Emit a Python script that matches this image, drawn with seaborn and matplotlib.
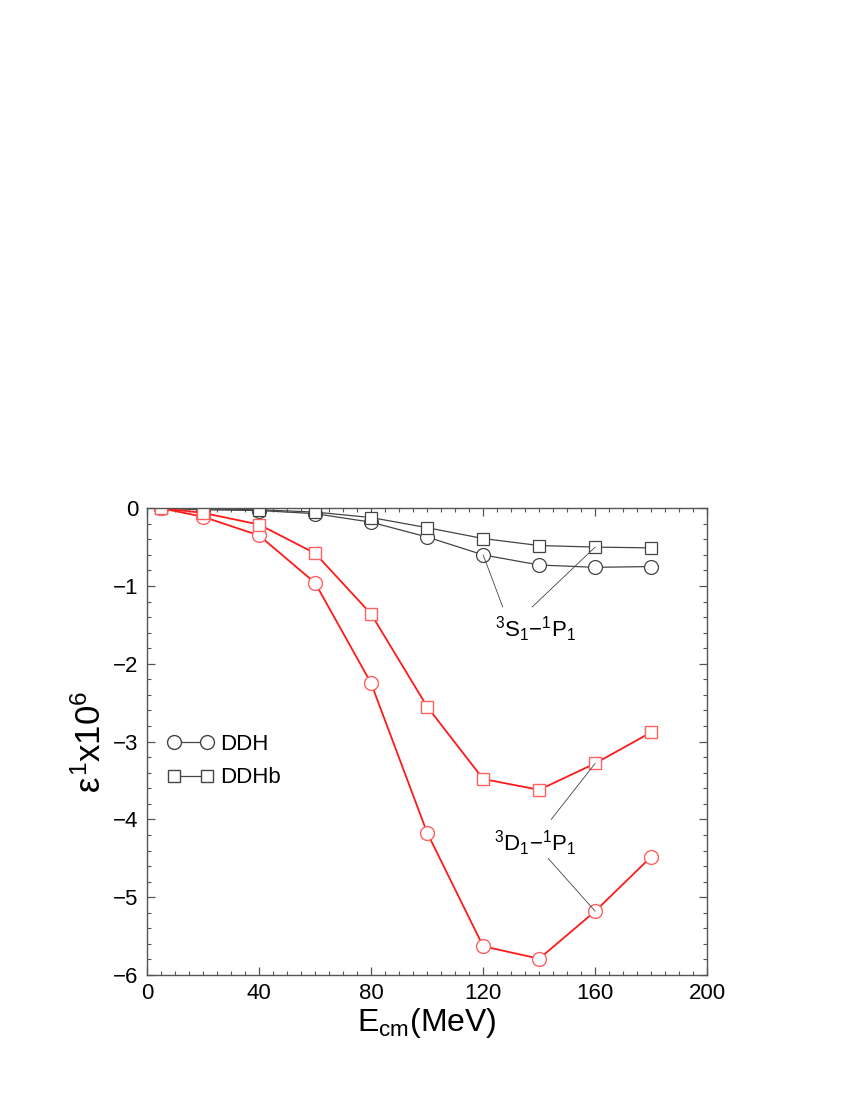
import matplotlib
matplotlib.use("Agg")
import matplotlib.pyplot as plt
import seaborn as sns
import numpy as np
from matplotlib.ticker import MultipleLocator
from matplotlib.lines import Line2D

sns.set_style("ticks")
plt.rcParams['font.family'] = ['Liberation Sans', 'DejaVu Sans']
plt.rcParams['mathtext.fontset'] = 'custom'
plt.rcParams['mathtext.rm'] = 'Liberation Sans'
plt.rcParams['mathtext.it'] = 'Liberation Sans'
plt.rcParams['text.color'] = 'black'
plt.rcParams['axes.labelcolor'] = 'black'
plt.rcParams['xtick.labelcolor'] = 'black'
plt.rcParams['ytick.labelcolor'] = 'black'

energy = [5, 20, 40, 60, 80, 100, 120, 140, 160, 180]
s_ddh = [0.0, -0.02, -0.03, -0.07, -0.18, -0.37, -0.60, -0.73, -0.76, -0.75]
s_ddhb = [0.0, -0.01, -0.02, -0.05, -0.12, -0.25, -0.39, -0.48, -0.50, -0.51]
d_ddh = [0.0, -0.11, -0.35, -0.96, -2.25, -4.17, -5.63, -5.79, -5.18, -4.48]
d_ddhb = [0.0, -0.06, -0.21, -0.58, -1.36, -2.55, -3.48, -3.62, -3.28, -2.88]
legend_labels = ["DDH", "DDHb"]

fig = plt.figure(figsize=(8.5, 11), dpi=100)
ax = fig.add_axes([0.173, 0.1136, 0.659, 0.4244])

gray = "#444444"
red = "#ff1a1a"
sns.lineplot(x=energy, y=s_ddh, ax=ax, color=gray, lw=0.9, marker='o', ms=10,
             markerfacecolor='white', markeredgecolor=gray, markeredgewidth=0.9)
sns.lineplot(x=energy, y=s_ddhb, ax=ax, color=gray, lw=0.9, marker='s', ms=8.5,
             markerfacecolor='white', markeredgecolor=gray, markeredgewidth=0.9)
sns.lineplot(x=energy, y=d_ddh, ax=ax, color=red, lw=1.3, marker='o', ms=10,
             markerfacecolor='white', markeredgecolor='#ff6060', markeredgewidth=1.0)
sns.lineplot(x=energy, y=d_ddhb, ax=ax, color=red, lw=1.3, marker='s', ms=8.5,
             markerfacecolor='white', markeredgecolor='#ff6060', markeredgewidth=1.0)

ax.set_xlim(0, 200)
ax.set_ylim(-6, 0)
ax.xaxis.set_major_locator(MultipleLocator(40))
ax.xaxis.set_minor_locator(MultipleLocator(5))
ax.yaxis.set_major_locator(MultipleLocator(1))
ax.yaxis.set_minor_locator(MultipleLocator(0.2))
ax.tick_params(which='both', direction='in', top=True, right=True, color='#555555')
ax.tick_params(which='major', length=6, width=0.9, labelsize=16, pad=6)
ax.tick_params(which='minor', length=3, width=0.8)
for sp in ax.spines.values():
    sp.set_color('#555555')
    sp.set_linewidth(1.0)
ax.set_yticks([0, -1, -2, -3, -4, -5, -6])
ax.set_yticklabels(["0", "\u22121", "\u22122", "\u22123", "\u22124", "\u22125", "\u22126"])

ax.set_xlabel(r"E$_{\mathrm{cm}}$(MeV)", fontsize=23, labelpad=1)
ax.set_ylabel(r"$\varepsilon^{1}$x10$^{6}$", fontsize=25, labelpad=4)

# annotations
ax.text(138.6, -1.55, r"$^{3}$S$_{1}$$-$$^{1}$P$_{1}$", fontsize=16, ha='center', va='center')
ax.plot([120, 127], [s_ddh[6], -1.27], color=gray, lw=0.6)
ax.plot([160, 137.5], [s_ddhb[8], -1.27], color=gray, lw=0.6)
ax.text(138.6, -4.3, r"$^{3}$D$_{1}$$-$$^{1}$P$_{1}$", fontsize=16, ha='center', va='center')
ax.plot([160, 144.3], [d_ddhb[8], -4.0], color=gray, lw=0.6)
ax.plot([160, 143.2], [d_ddh[8], -4.5], color=gray, lw=0.6)

handles = [
    Line2D([], [], color=gray, lw=0.9, marker='o', ms=10, markerfacecolor='white', markeredgecolor=gray),
    Line2D([], [], color=gray, lw=0.9, marker='s', ms=8.5, markerfacecolor='white', markeredgecolor=gray),
]
ax.legend(handles, legend_labels, loc='upper left', bbox_to_anchor=(0.02, 0.535), frameon=False,
          fontsize=16, numpoints=2, handlelength=2.1, labelspacing=0.55, handletextpad=0.3, borderaxespad=0)

fig.savefig("out.png", dpi=100)
